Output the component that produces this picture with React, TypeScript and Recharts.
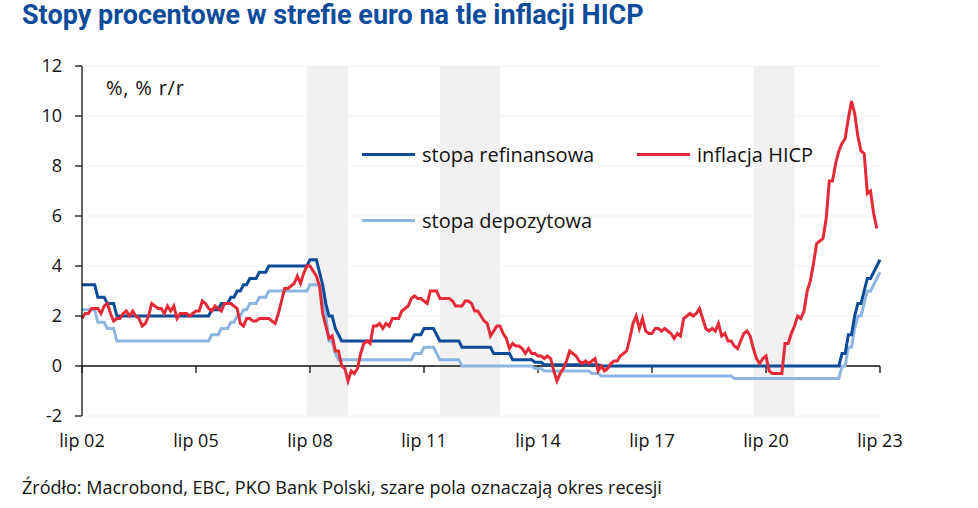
import { CartesianGrid, Line, LineChart, ReferenceArea, ReferenceLine, XAxis, YAxis } from 'recharts'

// monthly, lip 02 (index 0) .. lip 23 (index 252)
const refiRate = [
  3.25, 3.25, 3.25, 3.25, 3.25, 2.75,
  2.75, 2.75, 2.5, 2.5, 2.5, 2, 2, 2, 2, 2, 2, 2,
  2, 2, 2, 2, 2, 2, 2, 2, 2, 2, 2, 2,
  2, 2, 2, 2, 2, 2, 2, 2, 2, 2, 2, 2.25,
  2.25, 2.25, 2.5, 2.5, 2.5, 2.75, 2.75, 3, 3, 3.25, 3.25, 3.5,
  3.5, 3.5, 3.75, 3.75, 3.75, 4, 4, 4, 4, 4, 4, 4,
  4, 4, 4, 4, 4, 4, 4.25, 4.25, 4.25, 3.75, 3.25, 2.5,
  2, 2, 1.5, 1.25, 1, 1, 1, 1, 1, 1, 1, 1,
  1, 1, 1, 1, 1, 1, 1, 1, 1, 1, 1, 1,
  1, 1, 1, 1.25, 1.25, 1.25, 1.5, 1.5, 1.5, 1.5, 1.25, 1,
  1, 1, 1, 1, 1, 1, 0.75, 0.75, 0.75, 0.75, 0.75, 0.75,
  0.75, 0.75, 0.75, 0.75, 0.5, 0.5, 0.5, 0.5, 0.5, 0.5, 0.25, 0.25,
  0.25, 0.25, 0.25, 0.25, 0.25, 0.15, 0.15, 0.15, 0.05, 0.05, 0.05, 0.05,
  0.05, 0.05, 0.05, 0.05, 0.05, 0.05, 0.05, 0.05, 0.05, 0.05, 0.05, 0.05,
  0.05, 0.05, 0, 0, 0, 0, 0, 0, 0, 0, 0, 0,
  0, 0, 0, 0, 0, 0, 0, 0, 0, 0, 0, 0,
  0, 0, 0, 0, 0, 0, 0, 0, 0, 0, 0, 0,
  0, 0, 0, 0, 0, 0, 0, 0, 0, 0, 0, 0,
  0, 0, 0, 0, 0, 0, 0, 0, 0, 0, 0, 0,
  0, 0, 0, 0, 0, 0, 0, 0, 0, 0, 0, 0,
  0, 0, 0, 0, 0, 0, 0.5, 0.5, 1.25, 1.25, 2, 2.5,
  2.5, 3, 3.5, 3.5, 3.75, 4, 4.25,
]

const depoRate = [
  2.25, 2.25, 2.25, 2.25, 2.25, 1.75,
  1.75, 1.75, 1.5, 1.5, 1.5, 1, 1, 1, 1, 1, 1, 1,
  1, 1, 1, 1, 1, 1, 1, 1, 1, 1, 1, 1,
  1, 1, 1, 1, 1, 1, 1, 1, 1, 1, 1, 1.25,
  1.25, 1.25, 1.5, 1.5, 1.5, 1.75, 1.75, 2, 2, 2.25, 2.25, 2.5,
  2.5, 2.5, 2.75, 2.75, 2.75, 3, 3, 3, 3, 3, 3, 3,
  3, 3, 3, 3, 3, 3, 3.25, 3.25, 3.25, 3.25, 2.75, 2,
  1, 1, 0.5, 0.25, 0.25, 0.25, 0.25, 0.25, 0.25, 0.25, 0.25, 0.25,
  0.25, 0.25, 0.25, 0.25, 0.25, 0.25, 0.25, 0.25, 0.25, 0.25, 0.25, 0.25,
  0.25, 0.25, 0.25, 0.5, 0.5, 0.5, 0.75, 0.75, 0.75, 0.75, 0.5, 0.25,
  0.25, 0.25, 0.25, 0.25, 0.25, 0.25, 0, 0, 0, 0, 0, 0,
  0, 0, 0, 0, 0, 0, 0, 0, 0, 0, 0, 0,
  0, 0, 0, 0, 0, -0.1, -0.1, -0.1, -0.2, -0.2, -0.2, -0.2,
  -0.2, -0.2, -0.2, -0.2, -0.2, -0.2, -0.2, -0.2, -0.2, -0.2, -0.2, -0.3,
  -0.3, -0.3, -0.4, -0.4, -0.4, -0.4, -0.4, -0.4, -0.4, -0.4, -0.4, -0.4,
  -0.4, -0.4, -0.4, -0.4, -0.4, -0.4, -0.4, -0.4, -0.4, -0.4, -0.4, -0.4,
  -0.4, -0.4, -0.4, -0.4, -0.4, -0.4, -0.4, -0.4, -0.4, -0.4, -0.4, -0.4,
  -0.4, -0.4, -0.4, -0.4, -0.4, -0.4, -0.4, -0.4, -0.5, -0.5, -0.5, -0.5,
  -0.5, -0.5, -0.5, -0.5, -0.5, -0.5, -0.5, -0.5, -0.5, -0.5, -0.5, -0.5,
  -0.5, -0.5, -0.5, -0.5, -0.5, -0.5, -0.5, -0.5, -0.5, -0.5, -0.5, -0.5,
  -0.5, -0.5, -0.5, -0.5, -0.5, -0.5, 0, 0, 0.75, 0.75, 1.5, 2,
  2, 2.5, 3, 3, 3.25, 3.5, 3.75,
]

const hicp: (number | null)[] = [
  1.9, 2.1, 2.1, 2.3, 2.3, 2.3,
  2.1, 2.4, 2.5, 2.1, 1.8, 1.9, 1.9, 2.1, 2.2, 2.0, 2.2, 2.0,
  1.9, 1.6, 1.7, 2.0, 2.5, 2.4, 2.3, 2.3, 2.1, 2.4, 2.2, 2.4,
  1.9, 2.1, 2.1, 2.1, 2.0, 2.1, 2.2, 2.2, 2.6, 2.5, 2.3, 2.2,
  2.4, 2.3, 2.2, 2.5, 2.5, 2.5, 2.4, 2.3, 1.7, 1.6, 1.9, 1.9,
  1.8, 1.8, 1.9, 1.9, 1.9, 1.9, 1.8, 1.7, 2.1, 2.6, 3.1, 3.1,
  3.2, 3.3, 3.6, 3.3, 3.7, 4.0, 4.0, 3.8, 3.6, 3.2, 2.1, 1.6,
  1.1, 1.2, 0.6, 0.6, 0.0, -0.1, -0.6, -0.2, -0.3, -0.1, 0.5, 0.9,
  1.0, 0.9, 1.6, 1.6, 1.7, 1.5, 1.7, 1.6, 1.9, 1.9, 1.9, 2.2,
  2.3, 2.4, 2.7, 2.8, 2.7, 2.7, 2.6, 2.5, 3.0, 3.0, 3.0, 2.7,
  2.7, 2.7, 2.7, 2.6, 2.4, 2.4, 2.4, 2.6, 2.6, 2.5, 2.2, 2.2,
  2.0, 1.8, 1.7, 1.2, 1.4, 1.6, 1.6, 1.3, 1.1, 0.7, 0.9, 0.8,
  0.8, 0.7, 0.5, 0.7, 0.5, 0.5, 0.4, 0.4, 0.3, 0.4, 0.3, -0.2,
  -0.6, -0.3, -0.1, 0.2, 0.6, 0.5, 0.4, 0.2, 0.1, 0.2, 0.1, 0.2,
  0.3, -0.2, 0.0, -0.2, -0.1, 0.1, 0.2, 0.2, 0.4, 0.5, 0.6, 1.1,
  1.7, 2.0, 1.5, 1.9, 1.4, 1.3, 1.3, 1.5, 1.5, 1.4, 1.5, 1.4,
  1.3, 1.1, 1.3, 1.2, 1.9, 2.0, 2.1, 2.0, 2.1, 2.3, 1.9, 1.5,
  1.4, 1.5, 1.4, 1.7, 1.2, 1.3, 1.0, 1.0, 0.8, 0.7, 1.0, 1.3,
  1.4, 1.2, 0.7, 0.3, 0.1, 0.3, 0.4, -0.2, -0.3, -0.3, -0.3, -0.3,
  0.9, 0.9, 1.3, 1.6, 2.0, 1.9, 2.2, 3.0, 3.4, 4.1, 4.9, 5.0,
  5.1, 5.9, 7.4, 7.4, 8.1, 8.6, 8.9, 9.1, 9.9, 10.6, 10.1, 9.2,
  8.6, 8.5, 6.9, 7.0, 6.1, 5.5, null,
]

const xTicks = [0, 36, 72, 108, 144, 180, 216, 252]
const xTickLabels = ['lip 02', 'lip 05', 'lip 08', 'lip 11', 'lip 14', 'lip 17', 'lip 20', 'lip 23']
const yTicks = [-2, 0, 2, 4, 6, 8, 10, 12]

// recesje: [od, do] w indeksach miesięcy
const recessions = [
  [71, 84],
  [113, 132],
  [212, 225],
]

const DARK_BLUE = '#0b4b98'
const LIGHT_BLUE = '#8db5e2'
const RED = '#e52a37'

const rows = refiRate.map((r, i) => ({ m: i, refi: r, depo: depoRate[i], hicp: hicp[i] }))

const legendItems = [
  { label: 'stopa refinansowa', color: DARK_BLUE, left: 362, top: 154 },
  { label: 'inflacja HICP', color: RED, left: 637, top: 154 },
  { label: 'stopa depozytowa', color: LIGHT_BLUE, left: 362, top: 220 },
]

export default function App() {
  return (
    <div
      style={{
        position: 'absolute',
        left: 0,
        top: 0,
        width: 978,
        height: 508,
        background: '#fff',
        fontFamily: '"Open Sans", sans-serif',
        color: '#111',
      }}
    >
      <LineChart
        width={978}
        height={508}
        data={rows}
        margin={{ top: 66, right: 98, bottom: 52, left: 22 }}
        style={{ position: 'absolute', left: 0, top: 0 }}
      >
        {recessions.map(([a, b]) => (
          <ReferenceArea key={a} x1={a} x2={b} fill="#f1f1f1" fillOpacity={1} stroke="none" />
        ))}
        <CartesianGrid vertical={false} stroke="#f3f3f3" />
        <XAxis
          dataKey="m"
          type="number"
          domain={[0, 252]}
          ticks={xTicks}
          tickFormatter={v => xTickLabels[xTicks.indexOf(v)]}
          axisLine={false}
          tickLine={false}
          tickSize={0}
          tickMargin={18}
          height={40}
          tick={{ fontSize: 18, fill: '#111' }}
        />
        <YAxis
          domain={[-2, 12]}
          ticks={yTicks}
          width={60}
          interval={0}
          axisLine={{ stroke: '#111', strokeWidth: 1.3 }}
          tickLine={{ stroke: '#111', strokeWidth: 1.3 }}
          tickSize={7}
          tickMargin={13}
          tick={{ fontSize: 18, fill: '#111' }}
        />
        <ReferenceLine y={0} stroke="#111" strokeWidth={1.3} />
        {xTicks.map(t => (
          <ReferenceLine
            key={t}
            segment={[
              { x: t, y: 0 },
              { x: t, y: -0.28 },
            ]}
            stroke="#111"
            strokeWidth={1.3}
          />
        ))}
        <Line dataKey="depo" stroke={LIGHT_BLUE} strokeWidth={3} dot={false} isAnimationActive={false} />
        <Line dataKey="refi" stroke={DARK_BLUE} strokeWidth={3} dot={false} isAnimationActive={false} />
        <Line dataKey="hicp" stroke={RED} strokeWidth={3} dot={false} isAnimationActive={false} />
      </LineChart>

      <div
        style={{
          position: 'absolute',
          left: 22,
          top: -1,
          fontSize: 27,
          fontWeight: 700,
          color: '#0c4c9b',
          fontFamily: 'Roboto, sans-serif',
          whiteSpace: 'nowrap',
        }}
      >
        Stopy procentowe w strefie euro na tle inflacji HICP
      </div>

      <div style={{ position: 'absolute', left: 106, top: 74, fontSize: 20, letterSpacing: 0.8, whiteSpace: 'nowrap' }}>
        %, % r/r
      </div>

      {legendItems.map(item => (
        <div
          key={item.label}
          style={{
            position: 'absolute',
            left: item.left,
            top: item.top - 14,
            height: 28,
            display: 'flex',
            alignItems: 'center',
            gap: 7,
            whiteSpace: 'nowrap',
            fontSize: 20,
          }}
        >
          <span style={{ display: 'inline-block', width: 53, height: 3, background: item.color }} />
          <span>{item.label}</span>
        </div>
      ))}

      <div style={{ position: 'absolute', left: 22, top: 475, fontSize: 18, whiteSpace: 'nowrap' }}>
        Źródło: Macrobond, EBC, PKO Bank Polski, szare pola oznaczają okres recesji
      </div>
    </div>
  )
}
